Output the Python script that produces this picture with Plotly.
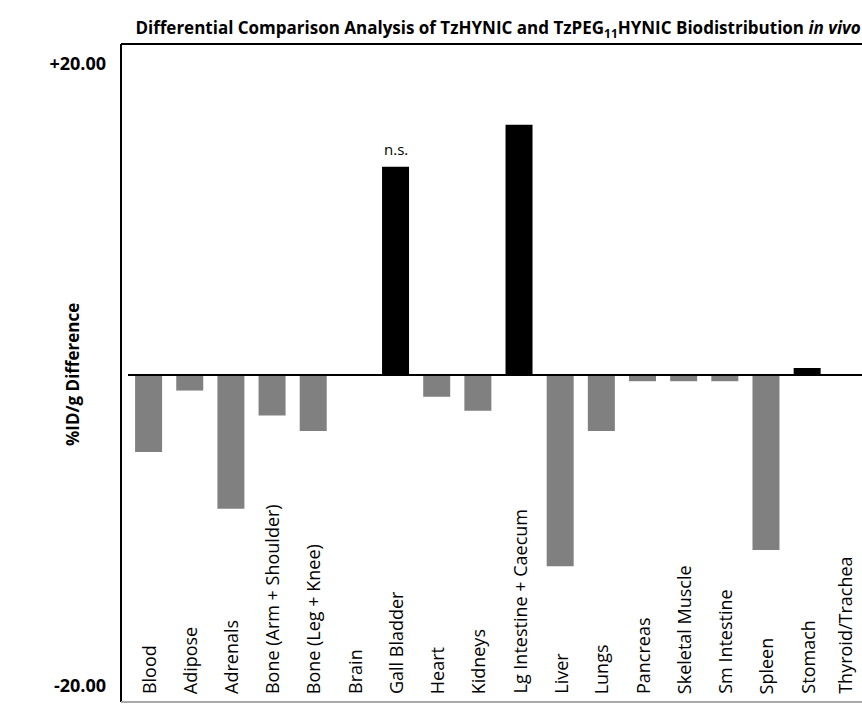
import plotly.graph_objects as go

categories = ["Blood", "Adipose", "Adrenals", "Bone (Arm + Shoulder)", "Bone (Leg + Knee)",
              "Brain", "Gall Bladder", "Heart", "Kidneys", "Lg Intestine + Caecum", "Liver",
              "Lungs", "Pancreas", "Skeletal Muscle", "Sm Intestine", "Spleen", "Stomach",
              "Thyroid/Trachea"]
differences = [-4.95, -1.0, -8.6, -2.6, -3.6, 0.0, 13.4, -1.4, -2.3, 16.1, -12.3,
               -3.6, -0.4, -0.4, -0.4, -11.25, 0.45, 0.0]
tick_values = [-20, 20]
tick_labels = ["-20.00", "+20.00"]
note_category = "Gall Bladder"
note_text = "n.s."

W, H = 862, 704
L, T, B = 128, 44, 2
plot_h = H - T - B
plot_w = W - L
zero_px = 375
px_per_unit = 15.55
y_top = (zero_px - T) / px_per_unit
y_bot = -((H - B) - zero_px) / px_per_unit
cat_w = 41.16
x_max = -0.5 + plot_w / cat_w

colors = ["#000000" if v > 0 else "#808080" for v in differences]

fig = go.Figure()
fig.add_trace(go.Bar(x=list(range(len(categories))), y=differences,
                     marker=dict(color=colors, line=dict(width=0)),
                     hovertext=categories, showlegend=False))

annotations = []
for i, c in enumerate(categories):
    annotations.append(dict(x=i, xref="x", y=6 / plot_h, yref="paper",
                            text=c, textangle=-90, showarrow=False,
                            xanchor="center", yanchor="bottom",
                            xshift=-4 if i == len(categories) - 1 else 0,
                            font=dict(family="Open Sans", size=18, color="black")))
ni = categories.index(note_category)
annotations.append(dict(x=ni, xref="x", y=differences[ni], yref="y", text=note_text,
                        showarrow=False, yanchor="bottom", yshift=6,
                        font=dict(family="Open Sans", size=15, color="black")))
annotations.append(dict(x=(72 - L) / plot_w, xref="paper", y=0, yref="y",
                        text="<b>%ID/g Difference</b>", textangle=-90, showarrow=False,
                        xanchor="center", yanchor="middle",
                        font=dict(family="Open Sans", size=17, color="black")))

lx = (121 - L) / plot_w
shapes = [
    dict(type="line", xref="paper", yref="paper", x0=lx, x1=1,
         y0=1, y1=1, line=dict(color="black", width=2)),
    dict(type="line", xref="paper", yref="paper", x0=lx, x1=lx,
         y0=0, y1=1, line=dict(color="black", width=2)),
    dict(type="line", xref="paper", yref="paper", x0=lx, x1=1,
         y0=0, y1=0, line=dict(color="#aaaaaa", width=2)),
    dict(type="line", xref="paper", yref="y", x0=0, x1=1, y0=0, y1=0,
         line=dict(color="black", width=2), layer="above"),
]

fig.update_layout(
    width=W, height=H,
    margin=dict(l=L, r=0, t=T, b=B, pad=0),
    paper_bgcolor="white", plot_bgcolor="white",
    bargap=0.344,
    title=dict(text="<b>Differential Comparison Analysis of TzHYNIC and TzPEG<sub>11</sub>HYNIC Biodistribution <i>in vivo</i></b>",
               x=(498 - L) / plot_w, xref="paper", xanchor="center",
               y=1 - 28 / H, yref="container", yanchor="middle",
               font=dict(family="Open Sans", size=17, color="black")),
    xaxis=dict(range=[-0.5, x_max], showticklabels=False, showgrid=False,
               zeroline=False, showline=False, ticks=""),
    yaxis=dict(range=[y_bot, y_top], tickvals=tick_values, ticktext=tick_labels,
               showgrid=False, zeroline=False, showline=False, ticks="",
               ticklabelstandoff=21,
               tickfont=dict(family="Open Sans", size=18, color="black", weight="bold")),
    annotations=annotations,
    shapes=shapes,
)

fig.write_html("out.html", config={"displayModeBar": False},
               post_script="document.body.style.margin='0';")
